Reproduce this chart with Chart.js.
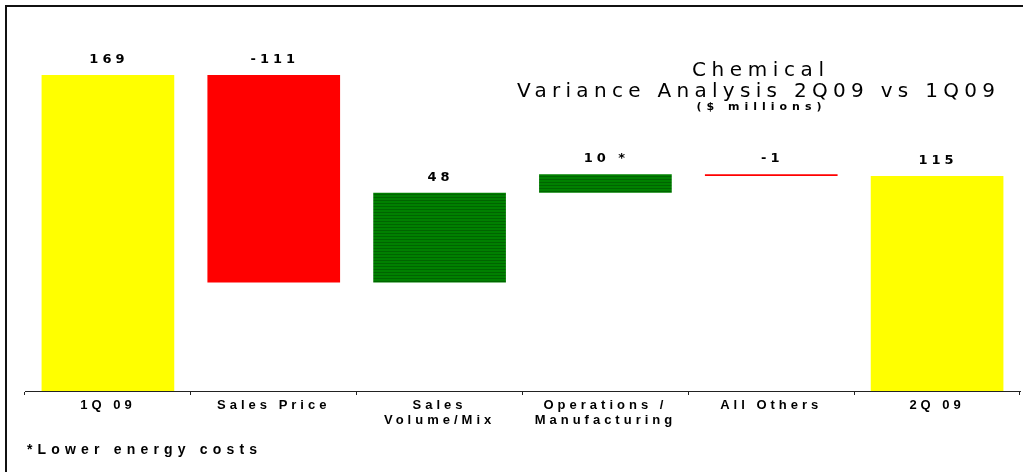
<!DOCTYPE html>
<html>
<head>
<meta charset="utf-8">
<script src="https://cdn.jsdelivr.net/npm/chart.js@4.4.0/dist/chart.umd.min.js"></script>
<style>
  html, body { margin: 0; padding: 0; background: #fff; }
  #wrap { position: relative; width: 1023px; height: 472px; overflow: hidden; }
  #frame { position: absolute; left: 5px; top: 5px; right: -10px; bottom: -10px;
           border-left: 2px solid #111; border-top: 2px solid #111; }
  canvas { position: absolute; left: 0; top: 0; }
</style>
</head>
<body>
<div id="wrap"><canvas id="chart" width="1023" height="472"></canvas><div id="frame"></div></div>
<script>
// data
const categories = [['1Q 09'], ['Sales Price'], ['Sales', 'Volume/Mix'], ['Operations /', 'Manufacturing'], ['All Others'], ['2Q 09']];
const changes = [169, -111, 48, 10, -1, 115];
const isTotal = [true, false, false, false, false, true];
const valueLabels = ['169', '-111', '48', '10 *', '-1', '115'];
const titleLines = ['Chemical', 'Variance Analysis 2Q09 vs 1Q09', '($ millions)'];
const footnote = '*Lower energy costs';

// waterfall ranges
let running = 0;
const ranges = changes.map((v, i) => {
    if (isTotal[i]) { running = v; return [0, v]; }
    const start = running;
    running += v;
    return [start, running];
});

function stripes() {
    const c = document.createElement('canvas');
    c.width = 8; c.height = 3;
    const g = c.getContext('2d');
    g.fillStyle = '#008000'; g.fillRect(0, 0, 8, 3);
    g.fillStyle = '#006400'; g.fillRect(0, 2, 8, 1);
    return g.createPattern(c, 'repeat');
}
const green = stripes();
const colors = changes.map((v, i) => isTotal[i] ? '#ffff00' : (v < 0 ? '#ff0000' : green));

// draw text stretched to a given width (wide letter spacing of the original)
function fitText(ctx, text, cx, y, width, font) {
    ctx.save();
    ctx.font = font;
    ctx.letterSpacing = '0px';
    const w = ctx.measureText(text).width;
    const sp = text.length > 1 ? (width - w) / (text.length - 1) : 0;
    ctx.letterSpacing = sp + 'px';
    ctx.textAlign = 'left';
    ctx.textBaseline = 'alphabetic';
    ctx.fillStyle = '#000';
    ctx.fillText(text, cx - width / 2, y);
    ctx.restore();
}

const texts = {
    id: 'texts',
    beforeDraw(chart) {
        chart.ctx.letterSpacing = '4px';
    },
    afterDatasetsDraw(chart) {
        const ctx = chart.ctx;
        const meta = chart.getDatasetMeta(0);
        ctx.save();
        ctx.font = 'bold 13px "DejaVu Sans"';
        ctx.letterSpacing = '4px';
        ctx.textAlign = 'center';
        ctx.textBaseline = 'alphabetic';
        ctx.fillStyle = '#000';
        meta.data.forEach((bar, i) => {
            const top = Math.min(bar.y, bar.base);
            ctx.fillText(valueLabels[i], bar.x + 1, top - 12);
        });
        ctx.restore();
    },
    afterDraw(chart) {
        const ctx = chart.ctx;
        fitText(ctx, titleLines[0], 758, 76, 132, '20px "DejaVu Sans"');
        fitText(ctx, titleLines[1], 756, 97, 478, '20px "DejaVu Sans"');
        fitText(ctx, titleLines[2], 759, 110, 125, 'bold 11px "DejaVu Sans"');
        fitText(ctx, footnote, 27 + 115, 454, 230, 'bold 14px "Liberation Sans"');
    }
};

new Chart(document.getElementById('chart'), {
    type: 'bar',
    data: {
        labels: categories,
        datasets: [{
            data: ranges,
            backgroundColor: colors,
            borderWidth: 0,
            barPercentage: 0.8,
            categoryPercentage: 1.0
        }]
    },
    options: {
        responsive: false,
        animation: false,
        devicePixelRatio: 1,
        layout: { padding: { left: 25, right: 3, top: 19, bottom: 0 } },
        plugins: { legend: { display: false }, tooltip: { enabled: false }, title: { display: false } },
        scales: {
            x: {
                grid: { drawOnChartArea: false, drawTicks: true, tickLength: 4, color: '#222' },
                border: { color: '#222', width: 1 },
                ticks: {
                    autoSkip: false, maxRotation: 0, padding: 3, color: '#000',
                    font: { family: '"Liberation Sans"', weight: 'bold', size: 13, lineHeight: 1.15 }
                },
                afterFit(scale) { scale.height = 81; }
            },
            y: { display: false, min: 0, max: 199 }
        }
    },
    plugins: [texts]
});
</script>
</body>
</html>
